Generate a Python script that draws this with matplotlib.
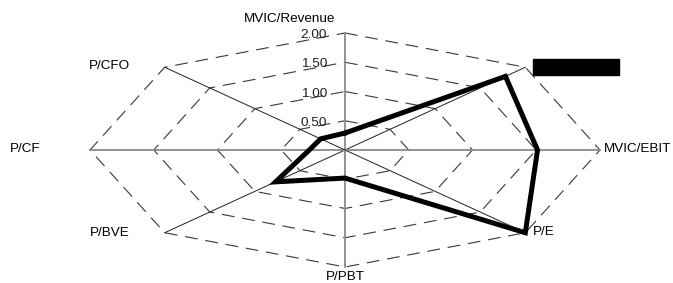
import numpy as np
import matplotlib
matplotlib.use("Agg")
import matplotlib.pyplot as plt
from matplotlib.patches import Rectangle

plt.rcParams['font.family'] = ['Liberation Sans', 'DejaVu Sans']

categories = ["MVIC/Revenue", "MVIC/EBITDA", "MVIC/EBIT", "P/E",
              "P/PBT", "P/BVE", "P/CF", "P/CFO"]
values = [0.29, 1.78, 1.51, 2.00, 0.48, 0.77, 0.28, 0.27]
grid_levels = [0.5, 1.0, 1.5, 2.0]
tick_labels = ["0.50", "1.00", "1.50", "2.00"]
r_max = 2.0

W, H = 673, 283
fig = plt.figure(figsize=(W / 100, H / 100), dpi=100)

# center (345,150), rx=255, ry=117 (pixels)
cx, cy, rx, ry = 345, 150, 255, 117
ax = fig.add_axes([(cx - rx) / W, (H - cy - ry) / H, 2 * rx / W, 2 * ry / H],
                  projection='polar')
ax.set_aspect('auto')
ax.set_theta_zero_location('N')
ax.set_theta_direction(-1)
ax.set_ylim(0, r_max)
ax.grid(False)
ax.set_xticks([])
ax.set_yticks([])
ax.spines['polar'].set_visible(False)
ax.patch.set_alpha(0)

n = len(categories)
theta = np.arange(n) * 2 * np.pi / n
theta_c = np.append(theta, theta[0])

# gridline octagons
for lvl in grid_levels:
    ax.plot(theta_c, [lvl] * (n + 1), color='#383838', lw=0.8,
            linestyle=(0, (11.5, 7)), clip_on=False, zorder=1)

# axis spokes
for i, t in enumerate(theta):
    if i % 2 == 0:
        ax.plot([t, t], [0, r_max], color='#8a8a8a', lw=1.3, clip_on=False, zorder=1)
    else:
        ax.plot([t, t], [0, r_max], color='#202020', lw=0.7, clip_on=False, zorder=1)

# data
ax.plot(theta_c, values + [values[0]], color='black', lw=3.6,
        solid_joinstyle='miter', clip_on=False, zorder=3)

# tick labels along top axis
for lvl, lab in zip(grid_levels, tick_labels):
    ax.annotate(lab, xy=(0, lvl), xytext=(-13, -1.5), textcoords='offset points',
                ha='right', va='center', fontsize=9.7, color='#202020')

# category labels (pixel positions)
label_pos = {
    "MVIC/Revenue": (290, 19, 'center'),
    "MVIC/EBIT": (604, 149, 'left'),
    "P/E": (533, 232, 'left'),
    "P/PBT": (345, 277, 'center'),
    "P/BVE": (110, 233, 'center'),
    "P/CF": (25, 149, 'center'),
    "P/CFO": (109, 66, 'center'),
}
for cat in categories:
    if cat in label_pos:
        x, y, ha = label_pos[cat]
        fig.text(x / W, 1 - y / H, cat, ha=ha, va='center', fontsize=9.7,
                 color='black')

# black legend box (redacted)
fig.patches.append(Rectangle((533 / W, 1 - 75 / H), 86 / W, 16 / H,
                             transform=fig.transFigure, facecolor='black',
                             edgecolor='black', zorder=5))

fig.savefig("out.png", dpi=100)
